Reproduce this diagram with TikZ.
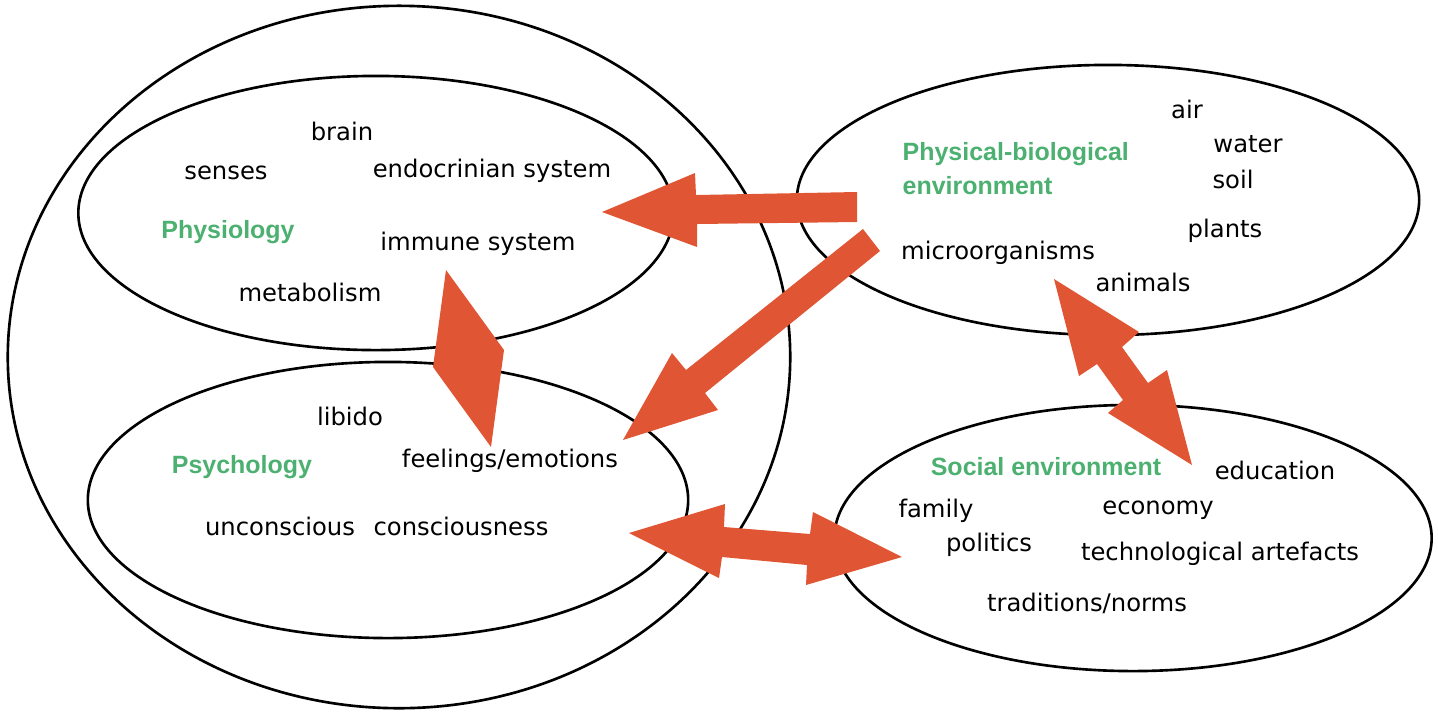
\documentclass[tikz,border=0pt]{standalone}
\usepackage{fontspec}
\setmainfont{DejaVu Sans}
\newfontfamily\labelfont{Liberation Sans}
\usepackage{tikz}
\usetikzlibrary{shapes}

\definecolor{arroworange}{RGB}{224,86,52}
\definecolor{labelgreen}{RGB}{76,176,112}

\tikzset{
  area/.style={draw, ellipse, line width=0.75pt, inner sep=0pt},
  item/.style={inner sep=0pt, font=\fontsize{6.9}{8}\selectfont},
  title/.style={inner sep=0pt, text=labelgreen, font=\labelfont\bfseries\fontsize{7.1}{9.7}\selectfont},
  blockarrow/.style={fill=arroworange}
}

\begin{document}
\begin{tikzpicture}[x=0.01cm, y=-0.01cm]
    \useasboundingbox (0,0) rectangle (1438,711);
    % areas
    \node[area, minimum width=7.82cm, minimum height=7.02cm] (human) at (399, 357) {};
    \node[area, minimum width=5.95cm, minimum height=2.74cm] (physiology) at (376, 213) {};
    \node[area, minimum width=6.00cm, minimum height=2.76cm] (psychology) at (388, 500) {};
    \node[area, minimum width=6.22cm, minimum height=2.70cm] (physical) at (1108, 200) {};
    \node[area, minimum width=5.97cm, minimum height=2.66cm] (social) at (1133, 538) {};
    % physiology
    \node[title] (physiologytitle) at (228, 232) {Physiology};
    \node[item] (brain) at (342, 131) {brain};
    \node[item] (senses) at (226, 173) {senses};
    \node[item] (endocrinian) at (492, 171) {endocrinian system};
    \node[item] (immune) at (478, 244) {immune system};
    \node[item] (metabolism) at (310, 292) {metabolism};
    % psychology
    \node[title] (psychologytitle) at (242, 467) {Psychology};
    \node[item] (libido) at (350, 416) {libido};
    \node[item] (feelings) at (510, 461) {feelings/emotions};
    \node[item] (unconscious) at (280, 526) {unconscious};
    \node[item] (consciousness) at (461, 526) {consciousness};
    % physical-biological environment
    \node[title, anchor=west, align=left] (physicaltitle) at (902, 169) {Physical-biological\\environment};
    \node[item] (air) at (1187, 109) {air};
    \node[item] (water) at (1248, 144) {water};
    \node[item] (soil) at (1233, 179) {soil};
    \node[item] (plants) at (1225, 231) {plants};
    \node[item] (microorganisms) at (998, 253) {microorganisms};
    \node[item] (animals) at (1143, 282) {animals};
    % social environment
    \node[title] (socialtitle) at (1046, 467) {Social environment};
    \node[item] (education) at (1275, 470) {education};
    \node[item] (family) at (936, 511) {family};
    \node[item] (economy) at (1158, 510) {economy};
    \node[item] (politics) at (989, 545) {politics};
    \node[item] (technological) at (1220, 554) {technological artefacts};
    \node[item] (traditions) at (1087, 603) {traditions/norms};
    % influences
    \fill[blockarrow] (857,192) -- (696,195) -- (695,173) -- (602,212) -- (697,247) -- (697,224) -- (857,222) -- cycle;
    \fill[blockarrow] (863,229) -- (686,370) -- (672,353) -- (623,440) -- (718,410) -- (705,393) -- (880,251) -- cycle;
    \fill[blockarrow] (629,533) -- (725,504) -- (724,527) -- (810,534) -- (813,512) -- (902,557) -- (806,585) -- (807,565) -- (722,557) -- (719,578) -- cycle;
    \fill[blockarrow] (1054,279) -- (1139,332) -- (1122,347) -- (1148,383) -- (1167,370) -- (1192,465) -- (1108,413) -- (1123,400) -- (1097,364) -- (1079,376) -- cycle;
    \fill[blockarrow] (446,270) -- (504,350) -- (491,447) -- (433,367) -- cycle;
\end{tikzpicture}
\end{document}
